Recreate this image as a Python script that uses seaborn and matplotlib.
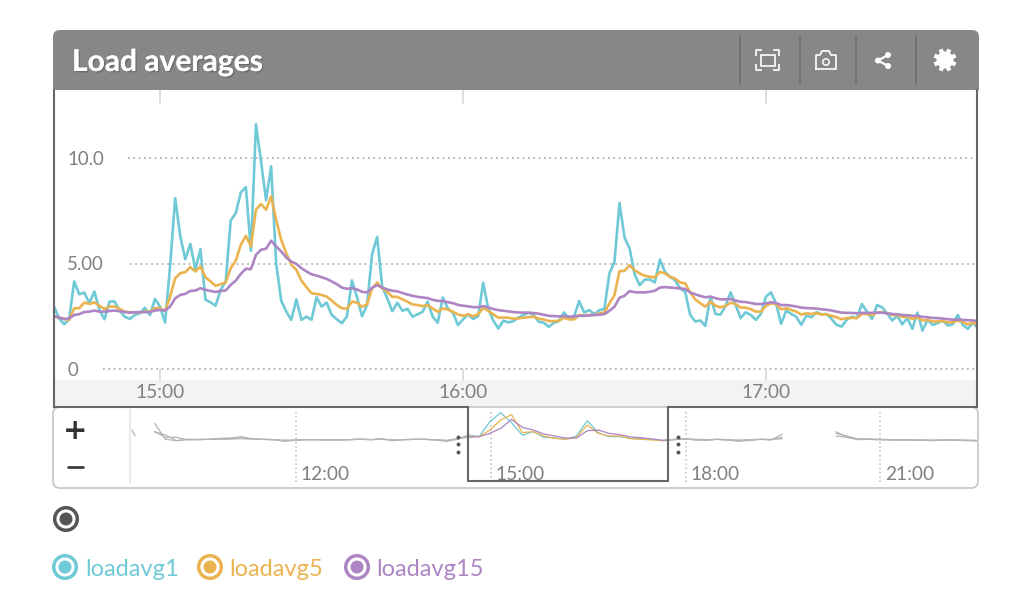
import pandas as pd
import numpy as np
import seaborn as sns
import matplotlib.pyplot as plt
import matplotlib.patheffects as pe
from matplotlib.patches import Circle, FancyBboxPatch, Rectangle
from matplotlib.transforms import Bbox

# 1. Values (one sample per minute, starting 14:39)
loadavg1 = [2.96, 2.4, 2.12, 2.36, 4.15, 3.54, 3.62, 3.12, 3.67, 2.8, 2.36, 3.2, 3.2, 2.77, 2.48, 2.37,
            2.56, 2.64, 2.9, 2.56, 3.32, 2.96, 2.2, 4.9, 8.1, 6.3, 5.2, 5.93, 4.7, 5.68, 3.28, 3.16,
            3.0, 3.75, 4.15, 7.04, 7.39, 8.37, 8.62, 5.6, 11.6, 9.84, 8.0, 9.6, 5.0, 3.24, 2.72, 2.33,
            3.3, 2.33, 2.48, 2.33, 3.4, 2.96, 3.15, 2.56, 2.36, 2.17, 2.48,
            4.2, 3.42, 2.5, 3.03, 5.44, 6.26, 3.9, 3.34, 2.74, 3.14, 2.76, 2.85, 2.48, 2.59, 2.71, 3.19,
            2.48, 2.19, 3.39, 2.87, 2.67, 2.08, 2.35, 2.59, 2.37, 2.5, 4.09, 2.87, 2.29, 1.92, 2.29, 2.21,
            2.27, 2.44, 2.56, 2.67, 2.56, 2.24, 2.19, 2.0, 2.19, 2.27, 2.68, 2.4, 2.48, 3.22, 2.68, 2.79,
            2.6, 2.79, 2.85, 4.53, 5.08, 7.87, 6.23, 5.71, 4.48, 3.97, 4.24, 4.24, 4.1, 5.19, 4.6, 4.37,
            4.2, 3.82, 3.66, 2.56, 2.25, 2.3, 2.04, 3.43, 2.61, 2.58, 2.99, 3.63, 3.03, 2.41, 2.69, 2.56,
            2.33, 2.61, 3.43, 3.63, 3.11, 2.14, 2.77, 2.61, 2.48, 2.09, 2.53, 2.45, 2.69, 2.59, 2.61, 2.37,
            2.09, 2.01, 2.33, 2.48, 2.41, 3.08, 2.72, 2.37, 3.03, 2.92, 2.64, 2.3, 2.52, 2.12, 2.41, 1.9,
            2.67, 1.82, 2.33, 2.09, 2.17, 2.3, 2.06, 2.12, 2.56, 2.09, 1.9, 2.2, 1.93]
loadavg5 = [2.5, 2.44, 2.37, 2.33, 2.88, 2.88, 3.15, 3.08, 3.16, 2.99, 2.85, 2.96, 2.96, 2.85, 2.72, 2.69,
            2.69, 2.69, 2.72, 2.72, 2.88, 2.88, 2.75, 3.43, 4.3, 4.54, 4.59, 4.83, 4.62, 4.86, 4.35, 4.15,
            3.94, 4.02, 4.1, 4.78, 5.14, 5.89, 6.31, 5.81, 7.55, 7.82, 7.55, 8.18, 7.07, 6.12, 5.49, 4.94,
            4.7, 4.19, 3.88, 3.59, 3.56, 3.51, 3.43, 3.24, 3.04, 2.88, 2.85,
            3.19, 3.15, 2.95, 3.06, 3.82, 4.1, 3.82, 3.66, 3.42, 3.42, 3.3, 3.19, 3.06, 3.03, 2.98, 3.03,
            2.87, 2.71, 2.87, 2.82, 2.71, 2.59, 2.52, 2.59, 2.5, 2.59, 2.9, 2.76, 2.59, 2.43, 2.44, 2.43,
            2.38, 2.4, 2.43, 2.46, 2.48, 2.38, 2.35, 2.27, 2.27, 2.29, 2.43, 2.35, 2.35, 2.56, 2.54, 2.56,
            2.56, 2.63, 2.68, 3.11, 3.5, 4.64, 4.65, 4.92, 4.68, 4.53, 4.42, 4.37, 4.34, 4.6, 4.53, 4.37,
            4.29, 4.1, 4.06, 3.62, 3.3, 3.11, 2.96, 3.19, 3.0, 2.92, 2.99, 3.14, 3.08, 2.91, 2.91, 2.83,
            2.72, 2.72, 2.99, 3.11, 3.08, 2.83, 2.88, 2.8, 2.72, 2.58, 2.64, 2.61, 2.64, 2.59, 2.59, 2.52,
            2.45, 2.36, 2.41, 2.42, 2.41, 2.61, 2.61, 2.56, 2.67, 2.69, 2.64, 2.56, 2.55, 2.47, 2.48, 2.37,
            2.45, 2.3, 2.33, 2.25, 2.25, 2.28, 2.2, 2.22, 2.3, 2.23, 2.11, 2.2, 2.09]
loadavg15 = [2.5, 2.44, 2.37, 2.4, 2.56, 2.6, 2.7, 2.72, 2.77, 2.72, 2.72, 2.75, 2.77, 2.74, 2.7, 2.67,
             2.69, 2.69, 2.69, 2.7, 2.77, 2.8, 2.77, 2.96, 3.35, 3.51, 3.56, 3.7, 3.72, 3.83, 3.75, 3.7,
             3.65, 3.7, 3.72, 3.99, 4.19, 4.51, 4.75, 4.73, 5.41, 5.65, 5.7, 6.08, 5.81, 5.57, 5.28, 5.09,
             4.98, 4.78, 4.62, 4.49, 4.43, 4.35, 4.27, 4.15, 4.02, 3.86, 3.8,
             3.83, 3.77, 3.66, 3.63, 3.85, 3.97, 3.86, 3.77, 3.71, 3.68, 3.6, 3.53, 3.47, 3.42, 3.39, 3.36,
             3.28, 3.23, 3.22, 3.17, 3.12, 3.04, 3.0, 2.97, 2.93, 2.93, 2.98, 2.92, 2.84, 2.79, 2.76, 2.73,
             2.7, 2.68, 2.67, 2.67, 2.65, 2.62, 2.57, 2.52, 2.51, 2.49, 2.51, 2.48, 2.49, 2.52, 2.52, 2.54,
             2.56, 2.57, 2.6, 2.76, 2.95, 3.38, 3.47, 3.69, 3.64, 3.63, 3.63, 3.66, 3.71, 3.86, 3.88, 3.86,
             3.84, 3.82, 3.79, 3.63, 3.54, 3.46, 3.4, 3.43, 3.36, 3.3, 3.3, 3.32, 3.24, 3.19, 3.17, 3.13,
             3.08, 3.08, 3.11, 3.16, 3.13, 3.03, 3.03, 3.0, 2.96, 2.91, 2.89, 2.88, 2.86, 2.83, 2.81, 2.77,
             2.72, 2.67, 2.66, 2.66, 2.64, 2.66, 2.66, 2.66, 2.67, 2.67, 2.64, 2.61, 2.59, 2.56, 2.55, 2.52,
             2.52, 2.47, 2.45, 2.42, 2.41, 2.39, 2.36, 2.34, 2.34, 2.33, 2.31, 2.3, 2.26]

# overview strip, one sample per 10 minutes from 09:49, nan = no data
overview1 = [5.67, 2.27, 1.99, 2.27, 2.27, 2.27, 2.48, 2.55, 2.84, 2.41, 2.27, 2.2, 1.84, 2.06, 2.2, 2.2, 2.13,
             2.13, 2.2, 2.34, 2.2, 2.41, 1.99, 2.2, 2.27, 2.27, 2.13, 1.84, 2.27,
             3.2, 2.84, 6.03, 7.94, 5.8, 3.12, 3.9, 2.7, 2.55, 2.27, 2.98, 6.24, 3.7, 2.84, 2.84, 2.48, 2.41, 2.27, 1.99,
             2.2, 2.41, 2.13, 2.06, 2.27, 2.13, 1.84, 2.06, 2.27, 2.13, 3.33,
             np.nan, np.nan, np.nan, np.nan,
             3.9, 2.7, 2.2, 2.27, 2.2, 2.13, 2.13, 2.13, 2.06, 1.99, 2.13, 2.13, 1.99, 1.92, 1.92]
overview5 = [3.9, 3.2, 1.99, 2.2, 2.2, 2.27, 2.34, 2.41, 2.55, 2.34, 2.27, 2.2, 2.0, 2.1, 2.2, 2.2, 2.16,
             2.16, 2.2, 2.3, 2.2, 2.34, 2.06, 2.2, 2.27, 2.27, 2.13, 2.0, 2.34,
             2.98, 2.84, 4.26, 6.38, 7.52, 3.7, 3.9, 2.98, 2.48, 2.27, 2.7, 5.3, 3.55, 2.98, 2.98, 2.41, 2.27, 2.13, 1.99,
             2.2, 2.34, 2.2, 2.13, 2.27, 2.1, 2.0, 2.13, 2.27, 2.2, 2.7,
             np.nan, np.nan, np.nan, np.nan,
             3.55, 2.98, 2.34, 2.27, 2.2, 2.2, 2.13, 2.13, 2.06, 2.06, 2.13, 2.13, 2.06, 1.99, 1.99]
overview15 = [3.9, 2.7, 2.7, 2.2, 2.2, 2.27, 2.27, 2.34, 2.41, 2.34, 2.27, 2.2, 2.1, 2.13, 2.2, 2.2, 2.2,
              2.2, 2.2, 2.27, 2.2, 2.27, 2.13, 2.2, 2.27, 2.27, 2.2, 2.06, 2.41,
              2.7, 2.84, 3.55, 4.6, 6.5, 4.8, 4.26, 3.4, 2.98, 2.55, 2.55, 4.1, 4.26, 3.55, 3.26, 2.77, 2.62, 2.34, 2.06,
              2.27, 2.34, 2.27, 2.2, 2.27, 2.2, 2.1, 2.2, 2.27, 2.27, 2.4,
              np.nan, np.nan, np.nan, np.nan,
              2.98, 2.7, 2.41, 2.34, 2.27, 2.2, 2.2, 2.13, 2.13, 2.1, 2.13, 2.13, 2.1, 2.06, 2.06]
stub_minutes = [0, 3]
stub_values = [4.25, 3.0]

series_names = ['loadavg1', 'loadavg5', 'loadavg15']
series_colors = ['#6fc9d6', '#ebb34f', '#ad85c4']
y_ticks = [0, 5, 10]
y_labels = ['0', '5.00', '10.0']
x_ticks = ['15:00', '16:00', '17:00']
overview_ticks = ['12:00', '15:00', '18:00', '21:00']

FONT = 'Lato'
W, H = 1024, 615
DARK = '#666666'
DAY = '2020-01-01 '


def px_axes(x0, y0, x1, y1):
    """add an axes using pixel corners measured from the top left"""
    return fig.add_axes([x0 / W, 1 - y1 / H, (x1 - x0) / W, (y1 - y0) / H])


# 2. Build the long tables seaborn wants
times = pd.date_range(DAY + '14:39', periods=len(loadavg1), freq='1min')
df = pd.DataFrame({'time': times, 'loadavg1': loadavg1, 'loadavg5': loadavg5, 'loadavg15': loadavg15})
df = df.melt(id_vars='time', var_name='series', value_name='load')

ov_times = pd.date_range(DAY + '09:49', periods=len(overview1), freq='10min')
ov = pd.DataFrame({'time': ov_times, 'loadavg1': overview1, 'loadavg5': overview5, 'loadavg15': overview15})
ov = ov.melt(id_vars='time', var_name='series', value_name='load')

sns.set_theme(style='white')
plt.rcParams['font.family'] = [FONT, 'DejaVu Sans']
fig = plt.figure(figsize=(W / 100, H / 100), dpi=100)
palette = dict(zip(series_names, series_colors))

# 3. Main chart
ax = px_axes(54, 90, 977, 407)
sns.lineplot(data=df, x='time', y='load', hue='series', palette=palette, hue_order=series_names,
             linewidth=1.9, legend=False, ax=ax, zorder=3)
t15 = pd.Timestamp(DAY + '15:00')
ax.set_xlim(t15 - pd.Timedelta(minutes=21), t15 + pd.Timedelta(minutes=161.8))
ax.set_ylim((369 - 407) / 21.1, (369 - 90) / 21.1)
ax.set_xlabel('')
ax.set_ylabel('')
ax.set_xticks([])
ax.set_yticks([])
for s in ax.spines.values():
    s.set_visible(False)
ax.axhspan((369 - 407) / 21.1, -0.52, color='#f2f3f5', lw=0, zorder=1)

grid_starts = [0.053, 0.082, 0.080]
for val, lab, start in zip(y_ticks, y_labels, grid_starts):
    ax.plot([start, 1], [val, val], transform=ax.get_yaxis_transform(), color='#aaaaaa', lw=1.2,
            ls=(0, (1, 2.2)), zorder=2)
    ax.text(13 / 923, val - 0.05, lab, transform=ax.get_yaxis_transform(), color='#808080', fontsize=13.4,
            ha='left', va='center')
for h, lab in enumerate(x_ticks):
    t = t15 + pd.Timedelta(hours=h)
    ax.plot([t, t], [-0.52, 0], color='#d8d8d8', lw=1.2, zorder=2)
    ax.plot([t, t], [12.6, 13.3], color='#d8d8d8', lw=1.2, zorder=2)
    ax.text(t, -1.12, lab, color='#808080', fontsize=13.8, ha='center', va='center')

# 4. Overview strip, grey outside the selected window and coloured inside
ax2 = px_axes(54, 408, 977, 487)
window_box = Bbox([[468, 0], [668, H]])
after_box = Bbox([[668, 0], [W, H]])


def ov_line(chunk, color, box=None):
    sns.lineplot(data=chunk, x='time', y='load', color=color, linewidth=0.9, ax=ax2,
                 legend=False, estimator=None, sort=False)
    if box is not None:
        ax2.lines[-1].set_clip_box(box)


for name in series_names:
    part = ov[ov.series == name]
    ov_line(part[part.time <= DAY + '14:39'], '#b5b5b5')
    ov_line(part[(part.time >= DAY + '17:39') & (part.time <= DAY + '19:29')], '#b5b5b5', after_box)
    ov_line(part[part.time >= DAY + '20:19'], '#b5b5b5')
    ov_line(part[(part.time >= DAY + '14:39') & (part.time <= DAY + '17:49')], palette[name], window_box)
stub_t = pd.Timestamp(DAY + '09:28') + pd.to_timedelta(stub_minutes, unit='min')
ax2.plot(stub_t, stub_values, color='#b5b5b5', lw=0.9)
ax2.set_xlim(t15 - pd.Timedelta(hours=(491 - 54) / 64.9), t15 + pd.Timedelta(hours=(977 - 491) / 64.9))
ax2.set_ylim((450 - 487) / 4.7, (450 - 408) / 4.7)
ax2.set_xlabel('')
ax2.set_ylabel('')
ax2.set_xticks([])
ax2.set_yticks([])
for s in ax2.spines.values():
    s.set_visible(False)
ax2.patch.set_alpha(0)
for lab in overview_ticks:
    t = pd.Timestamp(DAY + lab)
    ax2.plot([t, t], [(450 - 412) / 4.7, (450 - 483) / 4.7], color='#bbbbbb', lw=1.1, ls=(0, (1, 1.8)), zorder=1)
    ax2.text(t + pd.Timedelta(minutes=4), (450 - 474) / 4.7, lab, color='#808080', fontsize=13.8,
             ha='left', va='center')

# 5. Panel chrome, header and legend drawn in pixel space
ui = fig.add_axes([0, 0, 1, 1], zorder=5)
ui.set_xlim(0, W)
ui.set_ylim(H, 0)
ui.axis('off')
ui.patch.set_alpha(0)

ui.add_patch(FancyBboxPatch((53, 407), 925, 81, boxstyle='round,pad=0,rounding_size=7', fc='none', ec='#c9c9c9', lw=1.3))
ui.add_patch(FancyBboxPatch((53, 30), 926, 50, boxstyle='round,pad=0,rounding_size=7', fc='#878787', ec='none'))
ui.add_patch(Rectangle((53, 45), 926, 45, fc='#878787', ec='none'))
ui.plot([54, 54, 468, 468, 668, 668, 977, 977], [90, 407, 407, 481, 481, 407, 407, 90], color=DARK, lw=1.5,
        solid_joinstyle='miter')
ui.plot([130, 130], [409, 483], color='#e4e4e4', lw=1.1)

title = ui.text(72, 62, 'Load averages', color='white', fontsize=21.6, fontweight='bold', va='center', ha='left')
title.set_path_effects([pe.withSimplePatchShadow(offset=(1, -1), alpha=0.45), pe.Normal()])

for x in [740, 800, 856, 916]:
    ui.plot([x, x], [36, 84], color='#6d6d6d', lw=1.2)

# focus icon
for cx, sx in [(756, 1), (779, -1)]:
    for cy, sy in [(50, 1), (70, -1)]:
        ui.plot([cx + 6 * sx, cx, cx], [cy, cy, cy + 6 * sy], color='white', lw=1.2, solid_capstyle='butt')
ui.add_patch(Rectangle((760.5, 54.5), 14, 11, fc='none', ec='white', lw=1.2))
# camera icon
ui.plot([816, 816, 820, 822, 829, 831, 836, 836, 816], [69, 55, 55, 51, 51, 55, 55, 69, 69], color='white', lw=1.2)
ui.add_patch(Circle((826, 62), 3.2, fc='none', ec='white', lw=1.1))
# share icon
ui.plot([888, 878, 888], [55, 60.5, 66], color='white', lw=1.6)
for cx, cy, r in [(888, 55, 3), (878, 60.5, 3), (888, 66, 3)]:
    ui.add_patch(Circle((cx, cy), r, fc='white', ec='none'))
# gear icon
for ang in np.arange(0, 180, 45):
    dx, dy = 11.5 * np.cos(np.radians(ang + 22.5)), 11.5 * np.sin(np.radians(ang + 22.5))
    ui.plot([945 - dx, 945 + dx], [60 - dy, 60 + dy], color='white', lw=3, solid_capstyle='butt')
ui.add_patch(Circle((945, 60), 8.5, fc='white', ec='none'))
ui.add_patch(Circle((945, 60), 3.6, fc='#878787', ec='none'))

# zoom controls and handles
ui.text(75, 431, '+', color='#333333', fontsize=21, fontweight='bold', ha='center', va='center', family='DejaVu Sans')
ui.plot([68, 83], [467, 467], color='#333333', lw=1.9)
for x in [458, 678]:
    ui.scatter([x, x, x], [437, 444, 452], s=8, color='#555555', lw=0)


def ring(x, y, color, r):
    ui.add_patch(Circle((x, y), r - 1.7, fc='none', ec=color, lw=2.5))
    ui.add_patch(Circle((x, y), r * 0.5, fc=color, ec='none'))


ring(66, 519, '#555555', 13)
legend_rings = [65, 210, 357]
legend_texts = [85, 229, 376]
for name, color, rx, tx in zip(series_names, series_colors, legend_rings, legend_texts):
    ring(rx, 567, color, 13)
    ui.text(tx, 569, name, color=color, fontsize=17, ha='left', va='center')

fig.savefig('out.png', dpi=100)
